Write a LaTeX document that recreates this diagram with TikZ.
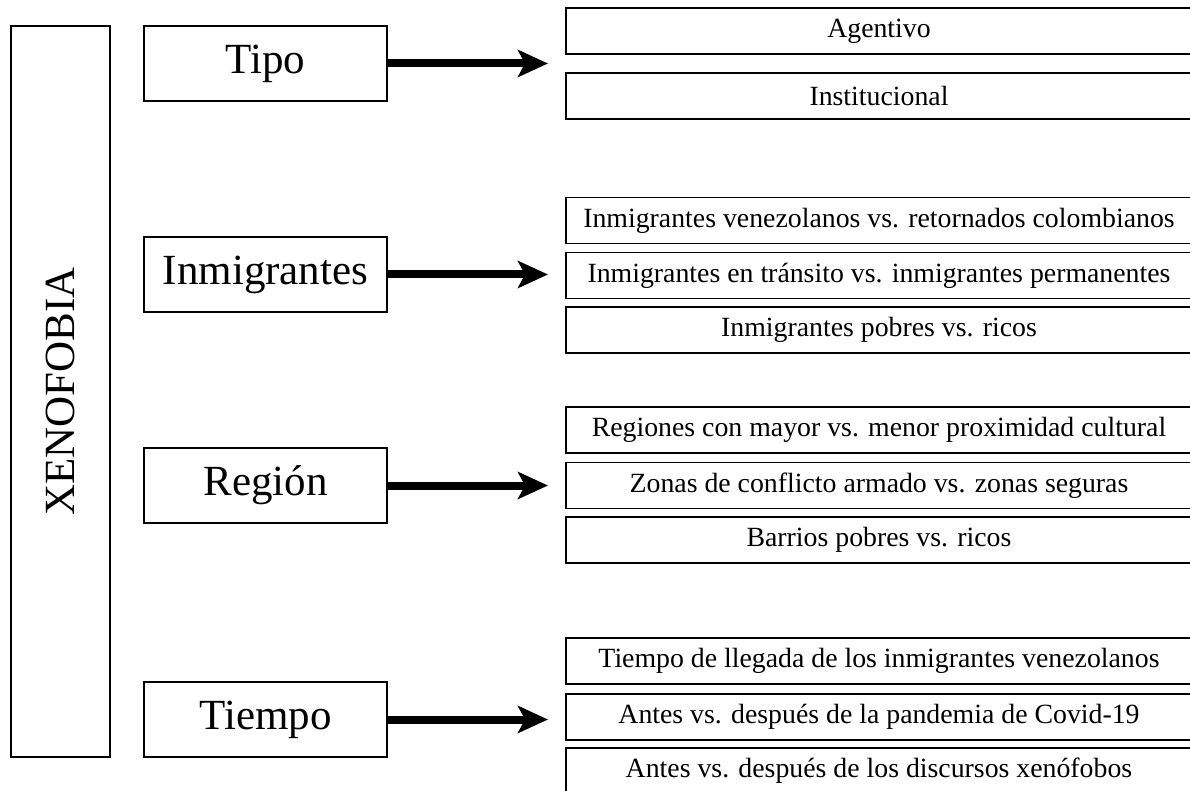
\documentclass[tikz,border=0pt]{standalone}
\usepackage{fontspec}
\setmainfont{Liberation Serif}
\usetikzlibrary{arrows.meta}
\begin{document}
\begin{tikzpicture}[x=1pt,y=-1pt,
 mainbox/.style={draw, line width=1.2pt, minimum width=99pt, minimum height=731pt, inner sep=0pt},
 catbox/.style={draw, line width=1.2pt, minimum width=243pt, minimum height=75pt, inner sep=0pt, font=\fontsize{43}{43}\selectfont},
 itembox/.style={draw, line width=1.3pt, minimum width=626pt, minimum height=46pt, inner sep=0pt, font=\fontsize{27.8}{28}\selectfont},
 bigarrow/.style={line width=8pt, -{Stealth[length=30pt,width=27pt,inset=7pt]}}
]
\clip (0,0) rectangle (1190,791);
% main
\node[mainbox] (main) at (60.5,391.5) {};
\node[rotate=90, font=\fontsize{43}{43}\selectfont] (xeno) at (main.center) {XENOFOBIA};
% categories
\node[catbox] (tipo) at (265.5,63.5) {Tipo};
\node[catbox] (inmi) at (265.5,274.5) {Inmigrantes};
\node[catbox] (regi) at (265.5,485.5) {Región};
\node[catbox] (tiem) at (265.5,719.5) {Tiempo};
% items
\node[itembox] (a1) at (879,31) {Agentivo};
\node[itembox] (a2) at (879,96) {Institucional};
\node[itembox] (b1) at (879,220.5) {Inmigrantes venezolanos vs. retornados colombianos};
\node[itembox] (b2) at (879,275.5) {Inmigrantes en tránsito vs. inmigrantes permanentes};
\node[itembox] (b3) at (879,330) {Inmigrantes pobres vs. ricos};
\node[itembox] (c1) at (879,430) {Regiones con mayor vs. menor proximidad cultural};
\node[itembox] (c2) at (879,485.5) {Zonas de conflicto armado vs. zonas seguras};
\node[itembox] (c3) at (879,540) {Barrios pobres vs. ricos};
\node[itembox] (d1) at (879,661) {Tiempo de llegada de los inmigrantes venezolanos};
\node[itembox] (d2) at (879,717) {Antes vs. después de la pandemia de Covid-19};
\node[itembox] (d3) at (879,771) {Antes vs. después de los discursos xenófobos};
% arrow tips
\coordinate (ta) at (548,63.5);
\coordinate (tb) at (548,274.5);
\coordinate (tc) at (548,485.5);
\coordinate (td) at (548,719.5);
\draw[bigarrow] (tipo.east) -- (ta);
\draw[bigarrow] (inmi.east) -- (tb);
\draw[bigarrow] (regi.east) -- (tc);
\draw[bigarrow] (tiem.east) -- (td);
\end{tikzpicture}
\end{document}
